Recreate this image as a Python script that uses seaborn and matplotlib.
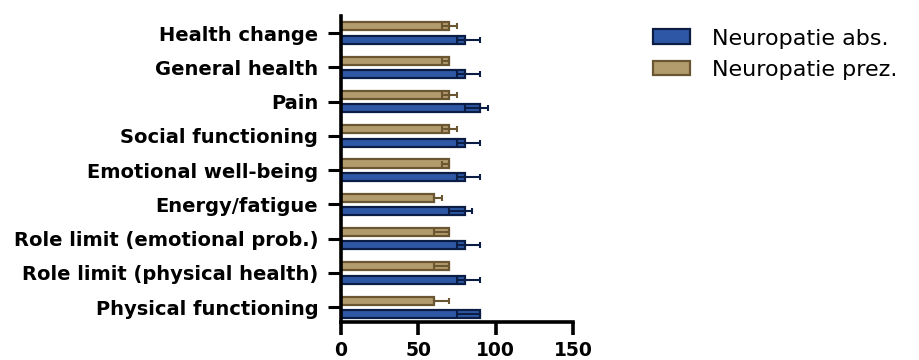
import matplotlib
matplotlib.use("Agg")
import matplotlib.pyplot as plt
import seaborn as sns
import pandas as pd
import numpy as np

# SF-36 domains, top to bottom
domains = [
    "Health change",
    "General health",
    "Pain",
    "Social functioning",
    "Emotional well-being",
    "Energy/fatigue",
    "Role limit (emotional prob.)",
    "Role limit (physical health)",
    "Physical functioning",
]

groups = ["Neuropatie prez.", "Neuropatie abs."]

# Medians with interquartile range per group
prez_median = [70, 70, 70, 70, 70, 60, 70, 70, 60]
prez_q1 = [65, 65, 65, 65, 65, 60, 60, 60, 60]
prez_q3 = [75, 70, 75, 75, 70, 65, 70, 70, 70]

abs_median = [80, 80, 90, 80, 80, 80, 80, 80, 90]
abs_q1 = [75, 75, 80, 75, 75, 70, 75, 75, 75]
abs_q3 = [90, 90, 95, 90, 90, 85, 90, 90, 90]

x_ticks = [0, 50, 100, 150]

fill_colors = {"Neuropatie prez.": "#b29c6e", "Neuropatie abs.": "#2e58a5"}
edge_colors = {"Neuropatie prez.": "#6b5632", "Neuropatie abs.": "#0b1d45"}

df = pd.DataFrame({
    "domain": domains * 2,
    "group": [groups[0]] * len(domains) + [groups[1]] * len(domains),
    "score": prez_median + abs_median,
})

sns.set_style("white")
plt.rcParams["font.family"] = ["DejaVu Sans"]
plt.rcParams["text.color"] = "black"
plt.rcParams["xtick.color"] = "black"
plt.rcParams["ytick.color"] = "black"

fig = plt.figure(figsize=(9.2, 3.6), dpi=100)
ax = fig.add_axes([0.3707, 0.1056, 0.6228 - 0.3707, 0.9556 - 0.1056])

sns.barplot(
    data=df, x="score", y="domain", hue="group",
    order=domains, hue_order=groups, palette=fill_colors,
    orient="h", errorbar=None, width=0.78, gap=0.4,
    linewidth=1.6, saturation=1, ax=ax, legend=False,
)

# darker outline per group
for cont, g in zip(ax.containers, groups):
    for p in cont:
        p.set_edgecolor(edge_colors[g])

# interquartile error bars with caps at both ends
spreads = {
    groups[0]: (prez_median, prez_q1, prez_q3),
    groups[1]: (abs_median, abs_q1, abs_q3),
}
for cont, g in zip(ax.containers, groups):
    med, q1, q3 = (np.array(a, dtype=float) for a in spreads[g])
    ys = np.array([p.get_y() + p.get_height() / 2 for p in cont])
    ax.errorbar(
        med, ys, xerr=[med - q1, q3 - med], fmt="none",
        ecolor=edge_colors[g], elinewidth=1.5, capsize=2.5, capthick=1.5,
        zorder=5,
    )

ax.set_xlim(0, 150)
ax.set_ylim(8.43, -0.5)
ax.set_xticks(x_ticks)
ax.set_xticklabels([str(t) for t in x_ticks], fontsize=13.5, fontweight="bold")
ax.set_yticks(range(len(domains)))
ax.set_yticklabels(domains, fontsize=14, fontweight="bold")
ax.set_xlabel("")
ax.set_ylabel("")

for side in ["top", "right"]:
    ax.spines[side].set_visible(False)
for side in ["left", "bottom"]:
    ax.spines[side].set_linewidth(2.6)
    ax.spines[side].set_color("black")

ax.tick_params(axis="y", length=9.5, width=2.2, pad=7, color="black", left=True)
ax.tick_params(axis="x", length=9, width=2.6, pad=5, color="black", bottom=True)

handles = [ax.containers[1][0], ax.containers[0][0]]
leg = fig.legend(
    handles, ["Neuropatie abs.", "Neuropatie prez."],
    loc="upper left", bbox_to_anchor=(0.70, 0.945), frameon=False,
    fontsize=16, handlelength=1.65, handleheight=0.65,
    handletextpad=1.0, labelspacing=0.5, borderaxespad=0,
)

fig.savefig("out.png", dpi=100)
